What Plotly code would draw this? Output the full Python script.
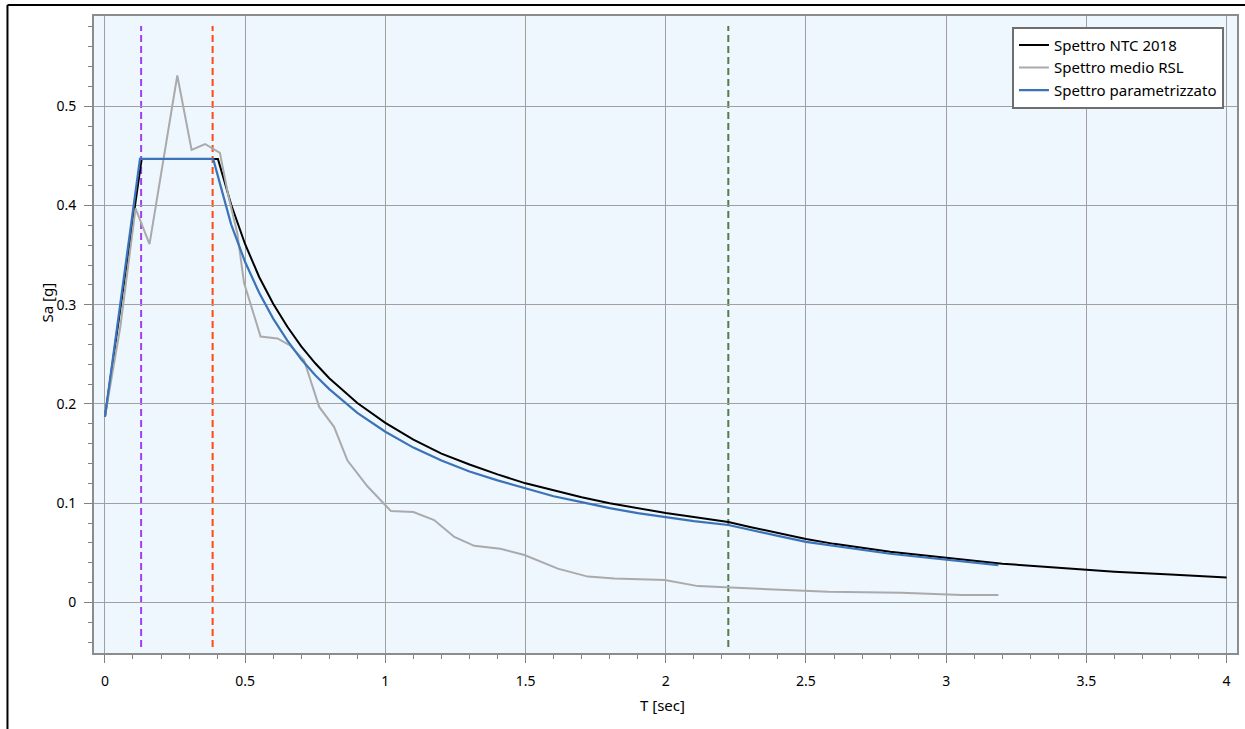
import plotly.graph_objects as go

# ---- data ----
T_ntc = [0.0, 0.131, 0.403, 0.45, 0.5, 0.55, 0.6, 0.65, 0.7, 0.75, 0.8, 0.9, 1.0, 1.1, 1.2,
         1.3, 1.4, 1.5, 1.6, 1.7, 1.8, 1.9, 2.0, 2.1, 2.223, 2.3, 2.4, 2.5, 2.6, 2.7, 2.8,
         2.9, 3.0, 3.2, 3.4, 3.6, 3.8, 4.0]
Sa_ntc = [0.187, 0.447, 0.447, 0.401, 0.361, 0.328, 0.301, 0.278, 0.258, 0.241, 0.226, 0.201,
          0.181, 0.164, 0.150, 0.139, 0.129, 0.120, 0.113, 0.106, 0.100, 0.095, 0.090, 0.086,
          0.081, 0.076, 0.070, 0.064, 0.059, 0.055, 0.051, 0.048, 0.045, 0.039, 0.035, 0.031,
          0.028, 0.025]

T_rsl = [0.0, 0.055, 0.109, 0.159, 0.258, 0.309, 0.357, 0.41, 0.44, 0.472, 0.496, 0.555,
         0.615, 0.66, 0.71, 0.764, 0.817, 0.865, 0.936, 0.996, 1.02, 1.10, 1.174, 1.246,
         1.317, 1.41, 1.496, 1.615, 1.722, 1.817, 1.996, 2.115, 2.222, 2.41, 2.579, 2.84,
         3.055, 3.186]
Sa_rsl = [0.187, 0.278, 0.397, 0.361, 0.531, 0.456, 0.462, 0.453, 0.41, 0.372, 0.322, 0.268,
          0.266, 0.259, 0.244, 0.197, 0.177, 0.143, 0.117, 0.0998, 0.092, 0.091, 0.083, 0.066,
          0.057, 0.054, 0.0477, 0.034, 0.026, 0.024, 0.0225, 0.0164, 0.015, 0.013, 0.0107,
          0.0097, 0.0074, 0.0074]

T_par = [0.0, 0.125, 0.386, 0.45, 0.5, 0.55, 0.6, 0.65, 0.7, 0.75, 0.8, 0.9, 1.0, 1.1, 1.2,
         1.3, 1.4, 1.5, 1.6, 1.7, 1.8, 1.9, 2.0, 2.1, 2.223, 2.3, 2.4, 2.5, 2.6, 2.7, 2.8,
         2.9, 3.0, 3.1, 3.186]
Sa_par = [0.187, 0.447, 0.447, 0.381, 0.343, 0.312, 0.286, 0.264, 0.245, 0.229, 0.215, 0.191,
          0.172, 0.156, 0.143, 0.132, 0.123, 0.115, 0.107, 0.101, 0.095, 0.090, 0.086, 0.082,
          0.078, 0.073, 0.067, 0.061, 0.057, 0.053, 0.049, 0.046, 0.043, 0.040, 0.0376]

# characteristic periods (vertical dashed markers)
T_marks = [0.129, 0.384, 2.223]
mark_colors = ["#A040F0", "#FF4A10", "#5A7A48"]
mark_span = [-0.045, 0.581]

series_names = ["Spettro NTC 2018", "Spettro medio RSL", "Spettro parametrizzato"]
x_title = "T [sec]"
y_title = "Sa [g]"

fig = go.Figure()
fig.add_trace(go.Scatter(x=T_ntc, y=Sa_ntc, mode="lines", name=series_names[0],
                         line=dict(color="#000000", width=2)))
fig.add_trace(go.Scatter(x=T_rsl, y=Sa_rsl, mode="lines", name=series_names[1],
                         line=dict(color="#AAAAAA", width=2)))
fig.add_trace(go.Scatter(x=T_par, y=Sa_par, mode="lines", name=series_names[2],
                         line=dict(color="#3B73B9", width=2.2)))

shapes = []
for t, c in zip(T_marks, mark_colors):
    shapes.append(dict(type="line", xref="x", yref="y", x0=t, x1=t,
                       y0=mark_span[0], y1=mark_span[1],
                       line=dict(color=c, width=2, dash="7px,4px"), layer="below"))
# outer frame (top and left black border)
shapes.append(dict(type="line", xref="paper", yref="paper", x0=-0.0757, x1=1.02,
                   y0=1.0173, y1=1.0173, line=dict(color="black", width=2)))
shapes.append(dict(type="line", xref="paper", yref="paper", x0=-0.0757, x1=-0.0757,
                   y0=1.0173, y1=-0.13, line=dict(color="black", width=2)))

annotations = [
    dict(text=x_title, xref="paper", yref="paper", x=0.4978, y=-0.0816,
         xanchor="center", yanchor="middle", showarrow=False,
         font=dict(family="Noto Sans, sans-serif", size=15, color="#000")),
    dict(text=y_title, xref="paper", yref="paper", x=-0.0415, y=0.5495, textangle=-90,
         xanchor="center", yanchor="middle", showarrow=False,
         font=dict(family="Noto Sans, sans-serif", size=15, color="#000")),
]

font = dict(family="Noto Sans, Open Sans, sans-serif", size=14, color="#000000")

fig.update_layout(
    width=1245, height=729,
    margin=dict(l=94, r=8, t=16, b=76, autoexpand=False),
    paper_bgcolor="white",
    plot_bgcolor="#EEF6FE",
    font=font,
    showlegend=True,
    legend=dict(x=0.9886, y=0.983, xanchor="right", yanchor="top",
                bgcolor="white", bordercolor="#6E6E6E", borderwidth=2,
                font=dict(family="Noto Sans, sans-serif", size=15, color="#000"),
                tracegroupgap=0, itemwidth=30),
    shapes=shapes,
    annotations=annotations,
    xaxis=dict(
        range=[-0.039, 4.037], dtick=0.5, tick0=0, automargin=False,
        showgrid=True, gridcolor="#A0A0A0", gridwidth=1,
        zeroline=False, showline=True, linecolor="#8C8C8C", linewidth=2, mirror=True,
        ticks="outside", ticklen=8, tickcolor="#808080", tickwidth=1,
        minor=dict(dtick=0.1, tick0=0, ticks="outside", ticklen=4, tickcolor="#808080",
                   showgrid=False),
        ticklabelstandoff=6,
        tickfont=dict(size=14),
    ),
    yaxis=dict(
        range=[-0.051, 0.591], dtick=0.1, tick0=0, automargin=False,
        showgrid=True, gridcolor="#A0A0A0", gridwidth=1,
        zeroline=False, showline=True, linecolor="#8C8C8C", linewidth=2, mirror=True,
        ticks="outside", ticklen=8, tickcolor="#808080", tickwidth=1,
        minor=dict(dtick=0.02, tick0=0, ticks="outside", ticklen=4, tickcolor="#808080",
                   showgrid=False),
        ticklabelstandoff=5,
        tickfont=dict(size=14),
    ),
)

fig.write_html("out.html", config={"displayModeBar": False},
               post_script="document.body.style.margin='0px';")
